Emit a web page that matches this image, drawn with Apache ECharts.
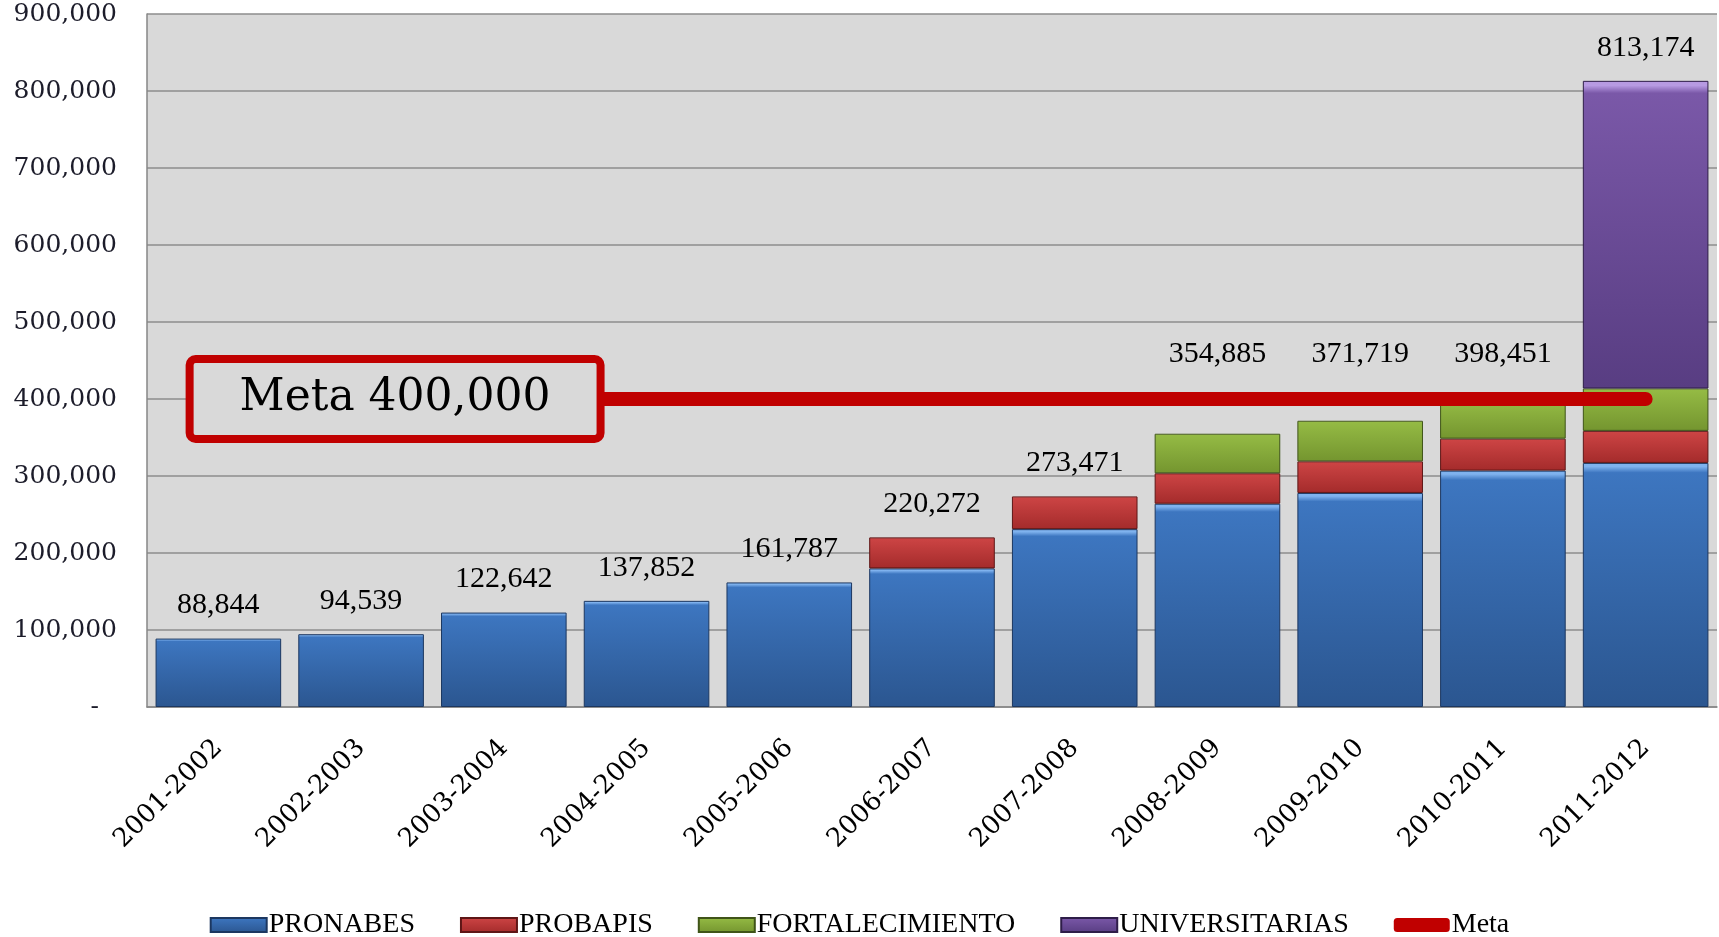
<!DOCTYPE html>
<html>
<head>
<meta charset="utf-8">
<script src="https://cdn.jsdelivr.net/npm/echarts@6/dist/echarts.min.js"></script>
<style>
  html, body { margin: 0; padding: 0; background: #fff; }
  #chart { width: 1719px; height: 937px; }
</style>
</head>
<body>
<div id="chart"></div>
<script>
// ciclos escolares
const categories = ['2001-2002', '2002-2003', '2003-2004', '2004-2005', '2005-2006', '2006-2007',
  '2007-2008', '2008-2009', '2009-2010', '2010-2011', '2011-2012'];

// becas por programa
const pronabes = [88844, 94539, 122642, 137852, 161787, 180000, 231000, 264000, 278000, 307000, 317000];
const probapis = [null, null, null, null, null, 40272, 42471, 39500, 41000, 41500, 41600];
const fortalecimiento = [null, null, null, null, null, null, null, 51385, 52719, 49951, 55000];
const universitarias = [null, null, null, null, null, null, null, null, null, null, 399574];

// totales rotulados sobre cada barra
const totals = [88844, 94539, 122642, 137852, 161787, 220272, 273471, 354885, 371719, 398451, 813174];

// meta
const metaValue = 400000;
const metaLine = [400000, 400000, 400000, 400000, 400000, 400000, 400000, 400000, 400000, 400000, 400000];

// y axis
const yMax = 900000;
const yStep = 100000;

const fmt = v => Number(v).toLocaleString('en-US');

// relleno con efecto biselado
const bevel = (hi, top, bottom) => new echarts.graphic.LinearGradient(0, 0, 0, 1, [
  { offset: 0, color: hi },
  { offset: 0.015, color: hi },
  { offset: 0.04, color: top },
  { offset: 1, color: bottom }
]);

const serif = '"Liberation Serif", "DejaVu Serif", serif';
const wideSerif = '"DejaVu Serif", serif';

const barSeries = (name, data, hi, top, bottom, edge) => ({
  name,
  type: 'bar',
  stack: 'total',
  data,
  barWidth: '88%',
  itemStyle: {
    color: bevel(hi, top, bottom),
    borderColor: edge,
    borderWidth: 1
  },
  z: 2
});

// las etiquetas cercanas a la meta se suben por encima de la línea
const labelAnchor = totals.map(t => (t < metaValue && t > metaValue - 60000) ? metaValue + 15000 : t);

const chart = echarts.init(document.getElementById('chart'));

chart.setOption({
  animation: false,
  backgroundColor: '#ffffff',
  grid: {
    left: 147,
    right: 2,
    top: 14,
    bottom: 230,
    show: true,
    backgroundColor: '#d9d9d9',
    borderWidth: 0
  },
  legend: {
    bottom: -7,
    left: 'center',
    itemWidth: 56,
    itemHeight: 14,
    itemGap: 45,
    textStyle: { fontFamily: serif, fontSize: 28, color: '#000', padding: [0, 0, 0, -3] },
    data: [
      { name: 'PRONABES', icon: 'rect' },
      { name: 'PROBAPIS', icon: 'rect' },
      { name: 'FORTALECIMIENTO', icon: 'rect' },
      { name: 'UNIVERSITARIAS', icon: 'rect' },
      { name: 'Meta', icon: 'roundRect', itemStyle: { color: '#c00000' } }
    ]
  },
  xAxis: {
    type: 'category',
    data: categories,
    axisLine: { lineStyle: { color: '#868686', width: 1.5 } },
    axisTick: { show: false },
    axisLabel: {
      rotate: 45,
      margin: 37,
      fontFamily: wideSerif,
      fontSize: 26,
      color: '#000'
    }
  },
  yAxis: {
    type: 'value',
    min: 0,
    max: yMax,
    interval: yStep,
    axisLine: { show: true, lineStyle: { color: '#868686', width: 1.5 } },
    axisTick: { show: false },
    splitLine: { lineStyle: { color: '#8c8c8c', width: 1.5 } },
    axisLabel: {
      margin: 30,
      fontFamily: wideSerif,
      fontSize: 25,
      color: '#1c1c2a',
      formatter: v => v === 0 ? '{d|-}' : fmt(v),
      rich: { d: { fontFamily: wideSerif, fontSize: 25, padding: [0, 18, 0, 0] } }
    }
  },
  series: [
    barSeries('PRONABES', pronabes, '#7fb2ee', '#3d76c0', '#2b5690', '#1c3760'),
    barSeries('PROBAPIS', probapis, '#f29a9a', '#cc4444', '#a42b2b', '#5e1616'),
    barSeries('FORTALECIMIENTO', fortalecimiento, '#d4ee8c', '#94ba44', '#74952f', '#3f5418'),
    barSeries('UNIVERSITARIAS', universitarias, '#b79ae2', '#7a58a8', '#583d82', '#2e1d48'),
    {
      name: 'Meta',
      type: 'line',
      data: metaLine,
      symbol: 'none',
      z: 5,
      lineStyle: { color: '#c00000', width: 14, cap: 'round' },
      itemStyle: { color: '#c00000' }
    },
    {
      // recuadro "Meta 400,000", anclado al segundo ciclo
      name: 'metaLabel',
      type: 'scatter',
      data: [[categories[1], metaValue]],
      symbolSize: 0,
      z: 10,
      itemStyle: { opacity: 1 },
      label: {
        show: true,
        position: 'inside',
        offset: [34, 0],
        formatter: 'Meta ' + fmt(metaValue),
        fontFamily: wideSerif,
        fontSize: 44,
        color: '#000',
        backgroundColor: '#d9d9d9',
        borderColor: '#c00000',
        borderWidth: 8,
        borderRadius: 2,
        padding: [14, 46, 14, 46]
      }
    },
    {
      name: 'totales',
      type: 'scatter',
      data: labelAnchor,
      symbolSize: 0,
      z: 6,
      itemStyle: { opacity: 1 },
      label: {
        show: true,
        position: 'top',
        distance: 18,
        fontFamily: serif,
        fontSize: 30,
        color: '#000',
        formatter: p => fmt(totals[p.dataIndex])
      }
    }
  ]
});
</script>
</body>
</html>
